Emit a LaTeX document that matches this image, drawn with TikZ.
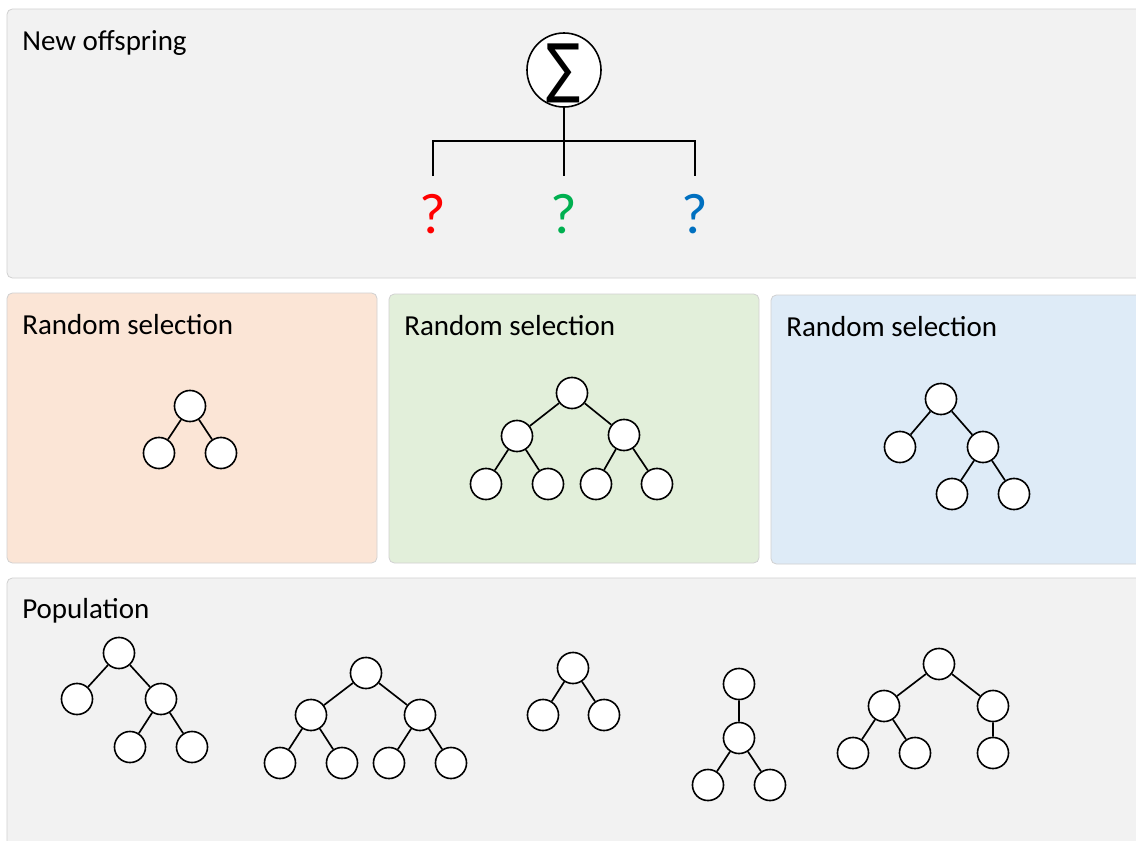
\documentclass[tikz,border=0pt]{standalone}
\usepackage{fontspec}
\usepackage{graphicx}
\setmainfont{Carlito}
\newfontfamily\symfont{DejaVu Sans}
\begin{document}
\begin{tikzpicture}[x=0.75pt,y=-0.75pt,
  panel/.style={draw=black!18, line width=0.6pt, rounded corners=4pt},
  title/.style={anchor=base west, inner sep=0pt, font=\fontsize{21.75}{26}\selectfont},
  vx/.style={circle, draw=black, fill=white, line width=1.2pt, minimum size=23.3pt, inner sep=0pt},
  edge/.style={draw=black, line width=1.25pt},
  bar/.style={draw=black, line width=1.6pt},
  qm/.style={font=\fontsize{43}{46}\selectfont, inner sep=0pt}
]
\useasboundingbox (0,0) rectangle (1136,840);
\fill[white] (0,0) rectangle (1136,840);

% panels
\draw[panel, fill=black!5]  (7,9)    rectangle (1150,278);
\draw[panel, fill={rgb,255:red,251;green,229;blue,214}] (7,293)  rectangle (377,563);
\draw[panel, fill={rgb,255:red,226;green,239;blue,218}] (389,294) rectangle (759,563);
\draw[panel, fill={rgb,255:red,222;green,235;blue,247}] (771,295) rectangle (1150,564);
\draw[panel, fill=black!5]  (7,578)  rectangle (1150,860);

% titles
\node[title] (tOff) at (22,50)  {New offspring};
\node[title] (tR1)  at (22,334) {Random selection};
\node[title] (tR2)  at (404,335) {Random selection};
\node[title] (tR3)  at (786,336) {Random selection};
\node[title] (tPop) at (22,618) {Population};

% summation node and its three branches
\node[circle, draw=black, fill=white, line width=1.2pt, minimum size=55.5pt, inner sep=0pt] (sig) at (564,70) {};
\node[inner sep=0pt, font=\symfont\fontsize{38}{38}\selectfont] (sigT) at (564,73) {\scalebox{1}[1.28]{∑}};
\coordinate (j)  at (564,141);
\coordinate (eL) at (433,176);
\coordinate (eM) at (564,176);
\coordinate (eR) at (695,176);
\draw[bar] (sig.south) -- (j);
\draw[bar] (eL) |- (j) -| (eR);
\draw[bar] (j) -- (eM);
\node[qm, text={rgb,255:red,255;green,0;blue,0}]   (qL) at (433,214) {?};
\node[qm, text={rgb,255:red,0;green,176;blue,80}]  (qM) at (564,214) {?};
\node[qm, text={rgb,255:red,0;green,112;blue,192}] (qR) at (695,214) {?};

% selection 1
\node[vx] (a0) at (190,406) {};
\node[vx] (a1) at (159,453) {};
\node[vx] (a2) at (221,453) {};
\draw[edge] (a0) -- (a1) (a0) -- (a2);

% selection 2
\node[vx] (b0) at (572,393) {};
\node[vx] (b1) at (517,436) {};
\node[vx] (b2) at (624,435) {};
\node[vx] (b3) at (486,484) {};
\node[vx] (b4) at (548,484) {};
\node[vx] (b5) at (596,484) {};
\node[vx] (b6) at (657,484) {};
\draw[edge] (b0) -- (b1) (b0) -- (b2) (b1) -- (b3) (b1) -- (b4) (b2) -- (b5) (b2) -- (b6);

% selection 3
\node[vx] (c0) at (941,399) {};
\node[vx] (c1) at (900,447) {};
\node[vx] (c2) at (983,447) {};
\node[vx] (c3) at (952,494) {};
\node[vx] (c4) at (1014,494) {};
\draw[edge] (c0) -- (c1) (c0) -- (c2) (c2) -- (c3) (c2) -- (c4);

% population: tree 1
\node[vx] (p0) at (119,653) {};
\node[vx] (p1) at (77,699) {};
\node[vx] (p2) at (161,699) {};
\node[vx] (p3) at (130,747) {};
\node[vx] (p4) at (192,747) {};
\draw[edge] (p0) -- (p1) (p0) -- (p2) (p2) -- (p3) (p2) -- (p4);

% population: tree 2
\node[vx] (q0) at (366,673) {};
\node[vx] (q1) at (311,715) {};
\node[vx] (q2) at (420,715) {};
\node[vx] (q3) at (280,763) {};
\node[vx] (q4) at (342,763) {};
\node[vx] (q5) at (389,763) {};
\node[vx] (q6) at (451,763) {};
\draw[edge] (q0) -- (q1) (q0) -- (q2) (q1) -- (q3) (q1) -- (q4) (q2) -- (q5) (q2) -- (q6);

% population: tree 3
\node[vx] (r0) at (573,668) {};
\node[vx] (r1) at (543,715) {};
\node[vx] (r2) at (604,715) {};
\draw[edge] (r0) -- (r1) (r0) -- (r2);

% population: tree 4
\node[vx] (s0) at (739,684) {};
\node[vx] (s1) at (739,738) {};
\node[vx] (s2) at (708,785) {};
\node[vx] (s3) at (770,785) {};
\draw[edge] (s0) -- (s1) (s1) -- (s2) (s1) -- (s3);

% population: tree 5
\node[vx] (u0) at (939,664) {};
\node[vx] (u1) at (884,706) {};
\node[vx] (u2) at (993,706) {};
\node[vx] (u3) at (853,753) {};
\node[vx] (u4) at (915,753) {};
\node[vx] (u5) at (993,753) {};
\draw[edge] (u0) -- (u1) (u0) -- (u2) (u1) -- (u3) (u1) -- (u4) (u2) -- (u5);
\end{tikzpicture}
\end{document}
